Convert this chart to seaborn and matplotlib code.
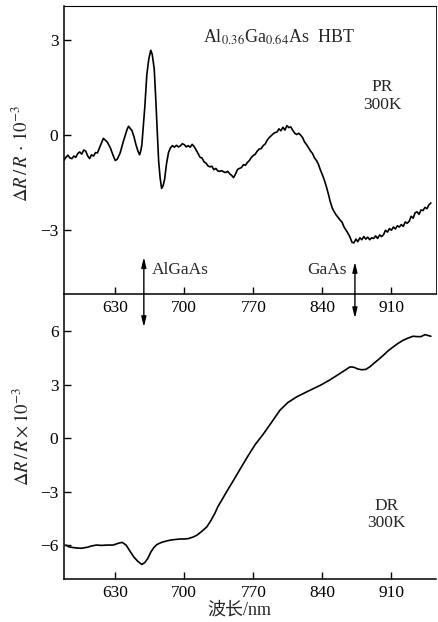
import matplotlib
matplotlib.use("Agg")
import matplotlib.pyplot as plt
import seaborn as sns

# --- PR spectrum (upper panel)
pr_nm = [578, 580, 582, 584, 586, 588, 590, 592, 594, 596, 598, 600, 602, 604, 606, 608, 610, 612, 614, 616,
         618, 620, 622, 625, 628, 630, 632, 635, 638, 640, 642, 643.5, 645, 647, 649, 651, 653, 654.7, 656, 657,
         658.5, 660, 662, 664, 666, 667.5, 669.5, 671, 672.5, 674, 675.5, 677, 678.5, 680, 682, 684, 686, 688,
         690, 692, 694, 696, 698, 700, 702, 704, 706, 708, 710, 712, 714, 716, 718, 720, 722, 724, 726, 728,
         730, 732, 734, 736, 738, 740, 742, 744, 746, 748, 750, 752, 754, 756, 758, 760, 762, 764, 766, 768,
         770, 772, 774, 776, 778, 780, 782, 784, 786, 788, 790, 792, 794, 796, 798, 800, 802, 804, 806, 808,
         810, 812, 814, 816, 818, 820, 822, 824, 826, 828, 830, 832, 834, 836, 838, 840, 842, 844, 846, 848,
         850, 852, 854, 856, 858, 860, 862, 864, 866, 868, 870, 872, 874, 876, 878, 880, 882, 884, 886, 888,
         890, 892, 894, 896, 898, 900, 902, 904, 906, 908, 910, 912, 914, 916, 918, 920, 922, 924, 926, 928,
         930, 932, 934, 936, 938, 940, 942, 944, 946, 948, 950]
pr_val = [-0.79, -0.70, -0.63, -0.72, -0.74, -0.66, -0.70, -0.58, -0.53, -0.60, -0.47, -0.50, -0.65, -0.74,
          -0.62, -0.66, -0.55, -0.56, -0.40, -0.25, -0.10, -0.16, -0.22, -0.40, -0.65, -0.80, -0.76, -0.56,
          -0.22, -0.02, 0.18, 0.28, 0.22, 0.14, -0.05, -0.30, -0.50, -0.62, -0.48, -0.30, 0.30, 0.90, 1.90,
          2.40, 2.68, 2.55, 2.10, 1.20, 0.20, -0.82, -1.35, -1.68, -1.60, -1.40, -0.90, -0.55, -0.40, -0.33,
          -0.38, -0.32, -0.37, -0.34, -0.27, -0.30, -0.37, -0.33, -0.38, -0.29, -0.36, -0.47, -0.58, -0.70,
          -0.72, -0.84, -0.88, -0.97, -1.00, -0.98, -1.09, -1.05, -1.13, -1.14, -1.12, -1.16, -1.18, -1.14,
          -1.22, -1.27, -1.34, -1.22, -1.08, -1.05, -1.02, -0.93, -0.95, -0.86, -0.80, -0.70, -0.64, -0.60,
          -0.50, -0.44, -0.42, -0.33, -0.28, -0.16, -0.08, -0.02, 0.04, 0.08, 0.10, 0.20, 0.14, 0.25, 0.16,
          0.30, 0.24, 0.26, 0.15, 0.06, 0.02, 0.06, 0.00, -0.08, -0.22, -0.30, -0.40, -0.50, -0.58, -0.72,
          -0.80, -0.92, -1.10, -1.25, -1.42, -1.62, -1.85, -2.10, -2.30, -2.42, -2.52, -2.60, -2.68, -2.75,
          -2.90, -3.00, -3.10, -3.22, -3.38, -3.40, -3.28, -3.36, -3.24, -3.30, -3.20, -3.28, -3.22, -3.30,
          -3.24, -3.26, -3.18, -3.26, -3.15, -3.20, -3.14, -3.00, -3.06, -2.95, -3.00, -2.90, -2.96, -2.86,
          -2.90, -2.82, -2.88, -2.74, -2.78, -2.72, -2.56, -2.62, -2.45, -2.42, -2.50, -2.36, -2.38, -2.28,
          -2.32, -2.20, -2.14]

# --- DR spectrum (lower panel)
dr_nm = [580, 583, 586, 590, 596, 602, 606, 611, 616, 622, 628, 633, 637, 641, 645, 649, 653, 657, 660, 663,
         666, 669, 672, 676, 680, 686, 692, 696, 700, 704, 709, 713, 718, 723, 727, 731, 734, 737, 743, 750,
         757, 764, 772, 780, 788, 797, 805, 814, 826, 838, 847, 855, 862, 868, 872, 876, 880, 884, 888, 892,
         897, 902, 907, 912, 917, 922, 927, 932, 936, 940, 944, 948, 950]
dr_val = [-6.0, -6.1, -6.13, -6.16, -6.18, -6.12, -6.05, -6.0, -6.02, -6.0, -6.0, -5.90, -5.85, -6.0, -6.35,
          -6.68, -6.92, -7.09, -6.98, -6.75, -6.40, -6.15, -5.98, -5.87, -5.80, -5.72, -5.68, -5.66, -5.66,
          -5.64, -5.55, -5.44, -5.22, -4.97, -4.62, -4.22, -3.85, -3.57, -3.00, -2.36, -1.70, -1.05, -0.35,
          0.22, 0.85, 1.57, 2.00, 2.32, 2.65, 2.97, 3.25, 3.53, 3.78, 4.00, 3.98, 3.88, 3.84, 3.86, 4.00,
          4.19, 4.42, 4.66, 4.92, 5.13, 5.33, 5.50, 5.62, 5.72, 5.70, 5.70, 5.81, 5.75, 5.72]

x_ticks = [630, 700, 770, 840, 910]
pr_ticks = [-3, 0, 3]
dr_ticks = [-6, -3, 0, 3, 6]
algaas_nm = 659
gaas_nm = 873

sns.set_style("ticks")
plt.rcParams['font.family'] = ['Liberation Serif', 'Noto Sans CJK SC']
plt.rcParams['mathtext.fontset'] = 'stix'
plt.rcParams['font.size'] = 12

fig = plt.figure(figsize=(4.38, 6.22), dpi=100)
ax_top = fig.add_axes([0.146, 0.527, 0.849, 0.463])
ax_bot = fig.add_axes([0.146, 0.069, 0.849, 0.458])

sns.lineplot(x=pr_nm, y=pr_val, ax=ax_top, color='black', lw=1.2, estimator=None, sort=False)
sns.lineplot(x=dr_nm, y=dr_val, ax=ax_bot, color='black', lw=1.2, estimator=None, sort=False)

for ax in (ax_top, ax_bot):
    ax.set_xlim(578, 955)
    ax.set_xticks(x_ticks)
    ax.tick_params(direction='in', length=5, width=1, colors='black', labelsize=12.5, pad=4)
    for s in ax.spines.values():
        s.set_linewidth(1.1)
        s.set_color('black')
    ax.patch.set_alpha(0)

ax_top.set_ylim(-5.02, 4.07)
ax_top.set_yticks(pr_ticks)
ax_top.spines['right'].set_linewidth(0.6)
ax_top.spines['top'].set_linewidth(0.8)

ax_bot.set_ylim(-7.91, 8.08)
ax_bot.set_yticks(dr_ticks)
ax_bot.spines['top'].set_visible(False)
ax_bot.spines['right'].set_visible(False)

ax_top.set_ylabel(r'$\Delta R\,/\,R\,\cdot\,10^{-3}$', fontsize=13.5)
ax_top.yaxis.set_label_coords(-0.085, 0.49)
ax_bot.set_ylabel(r'$\Delta R\,/\,R\times10^{-3}$', fontsize=13.5)
ax_bot.yaxis.set_label_coords(-0.085, 0.5)
ax_bot.set_xlabel('波长/nm', fontsize=13)
ax_bot.xaxis.set_label_coords(0.473, -0.08)

ax_top.text(0.374, 0.892, r'Al$_{0.36}$Ga$_{0.64}$As  HBT', transform=ax_top.transAxes,
            ha='left', va='center', fontsize=13)
ax_top.text(0.857, 0.688, 'PR\n300K', transform=ax_top.transAxes,
            ha='center', va='center', multialignment='center', fontsize=12.5, linespacing=1.1)
ax_bot.text(0.868, 0.228, 'DR\n300K', transform=ax_bot.transAxes,
            ha='center', va='center', multialignment='center', fontsize=12.5, linespacing=1.1)

# double-headed markers for the band gaps, crossing both panels
arrow = dict(arrowstyle='<|-|>,head_length=0.5,head_width=0.12', color='black', lw=1.0,
             shrinkA=0, shrinkB=0, mutation_scale=12)
ax_bot.annotate('', xy=(algaas_nm, -3.85), xycoords=ax_top.transData,
                xytext=(algaas_nm, 6.23), textcoords=ax_bot.transData,
                arrowprops=arrow, annotation_clip=False)
ax_bot.annotate('', xy=(gaas_nm, -4.0), xycoords=ax_top.transData,
                xytext=(gaas_nm, 6.73), textcoords=ax_bot.transData,
                arrowprops=arrow, annotation_clip=False)
fig.text(152 / 438, 1 - 270 / 622, 'AlGaAs', ha='left', va='center', fontsize=12.5)
fig.text(347 / 438, 1 - 270 / 622, 'GaAs', ha='right', va='center', fontsize=12.5)

fig.savefig('out.png', dpi=100)
